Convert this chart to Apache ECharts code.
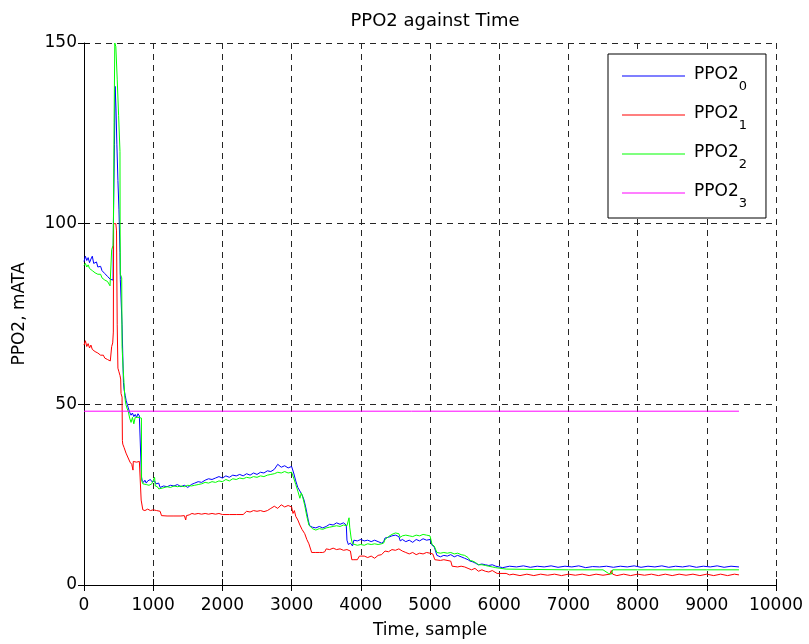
<!DOCTYPE html>
<html>
<head>
<meta charset="utf-8">
<script src="https://cdn.jsdelivr.net/npm/echarts@6/dist/echarts.min.js"></script>
<style>
html,body{margin:0;padding:0;background:#fff;}
#chart{width:809px;height:644px;}
</style>
</head>
<body>
<div id="chart"></div>
<script>
const xTicks = [0,1000,2000,3000,4000,5000,6000,7000,8000,9000,10000];
const yTicks = [0,50,100,150];
const seriesNames = ['PPO2_0','PPO2_1','PPO2_2','PPO2_3'];

const ppo2_0 = [[0,89.5],[20,91],[40,89.8],[60,90.6],[80,89.2],[100,90.2],[120,91],[140,89],[160,88.6],[180,89.4],[200,88],[220,87.6],[240,88.2],[260,87],[280,86.8],[300,86.2],[320,86.6],[340,85.4],[360,85.8],[380,84.6],[400,85],[420,84.4],
[425,100],[440,122],[450,138],[462,132],[475,122],[490,112],[505,104],[520,92],[525,84.5],[545,84],[550,72],[560,64],[570,56],[580,54],[595,52.5],[610,51],[625,50],[640,49],[660,47.8],[680,47],[700,47.6],[720,46.6],[740,47.2],[760,46.4],[780,47.4],[800,46.8],[820,47],
[830,30],[840,29],[860,28.4],[880,29],[900,28.2],[920,28.8],[940,28.4],[960,29.2],[980,28.6],[1000,28.4],[1020,28.8],[1040,28],[1060,27.6],[1080,28.2],[1100,27],[1120,26.8],[1150,27.4],[1200,27.2],[1250,27.6],[1300,27.4],[1350,27.8],[1400,27.2],[1450,27.6],[1500,27],[1550,27.8],[1600,28.2],[1650,28.6],[1700,28.4],[1750,29],[1800,29.4],[1850,29.2],[1900,29.6],[1950,30],[2000,29.6],[2050,30.2],[2100,29.8],[2150,30.4],[2200,30.2],[2250,30.6],[2300,30.2],[2350,30.8],[2400,30.4],[2450,31],[2500,30.6],[2550,31.2],[2600,31],[2650,31.6],[2700,31.4],[2750,32],[2800,33.4],[2850,32.6],[2900,33],[2950,32.4],[3000,32.8],
[3030,31],[3060,28.8],[3090,27],[3120,26],[3150,25],[3180,23.5],[3210,21],[3240,18],[3260,16.4],[3300,16],[3350,15.8],[3400,16.2],[3450,15.8],[3500,16.2],[3550,16.8],[3600,16.6],[3650,17.2],[3700,16.8],[3750,17.2],[3790,16.6],[3800,12.4],[3820,11.2],[3850,11.6],[3880,10.8],[3900,12.4],[3950,12.2],[4000,12.6],[4050,12.2],[4100,12.4],[4150,12],[4200,12.4],[4250,12],[4300,11.6],[4330,12],[4350,13],[4400,13.2],[4450,13.6],[4500,13.8],[4550,13.4],[4570,12.2],[4600,12.6],[4650,12],[4700,12.4],[4750,11.8],[4800,12.6],[4850,12.2],[4900,12.8],[4950,12.4],[5000,12.6],
[5030,11],[5060,10.6],[5100,8.2],[5150,7.8],[5200,8.2],[5250,8],[5300,8.4],[5350,7.8],[5400,8.2],[5450,7.8],[5500,7.4],[5550,7],[5580,6.6],[5620,6.4],[5660,6],[5700,5.6],[5750,5.8],[5800,5.6],[5850,5.4],[5900,5.6],[5950,5.2],[5970,5],[6050,4.8],[6150,5.2],[6250,5],[6350,5.3],[6450,4.9],[6550,5.2],[6650,5],[6750,5.3],[6850,4.9],[6950,5.2],[7050,5],[7150,5.3],[7250,4.8],[7350,5.1],[7450,5],[7550,5.2],[7650,4.9],[7750,5.2],[7850,5],[7950,5.3],[8050,4.9],[8150,5.2],[8250,5],[8350,5.3],[8450,4.9],[8550,5.2],[8650,5],[8750,5.3],[8850,4.9],[8950,5.2],[9050,5],[9150,5.3],[9250,4.9],[9350,5.2],[9465,5]];

const ppo2_1 = [[0,66.4],[20,67.6],[40,66],[60,66.8],[80,65.6],[100,66.4],[120,65.2],[140,65.6],[160,64.6],[180,64.8],[200,64.2],[220,64.4],[240,63.6],[260,63.2],[280,63.6],[300,62.8],[320,63.2],[340,62.4],[360,62.8],[380,62],[398,62.2],[400,66],[415,67],[424,70],[428,100],[460,100],[470,98],[480,72],[490,60],[505,59],[520,58],[530,57],[535,53],[550,52],[555,40],[560,39],[580,38],[607,36.5],[630,36],[665,34],[690,33.4],[708,31.8],[712,34.2],[760,34],[800,34.2],[824,34],
[826,23.5],[850,20.8],[880,20.6],[920,21],[960,20.6],[1000,20.8],[1050,20.6],[1100,20.4],[1120,19.2],[1200,19.1],[1300,19.1],[1400,19.1],[1450,19.2],[1470,18],[1480,19.2],[1520,19.4],[1560,19.8],[1600,19.6],[1650,19.8],[1700,19.6],[1750,19.8],[1800,19.6],[1850,19.8],[1900,19.6],[1950,19.8],[2000,19.5],[2100,19.5],[2200,19.5],[2300,19.5],[2350,20.4],[2400,20.2],[2450,20.6],[2500,20.4],[2550,20.6],[2600,20.3],[2650,20.6],[2700,21.2],[2750,21.8],[2800,21.2],[2850,22.2],[2900,21.6],[2950,22],[3000,21.6],
[3020,19.8],[3040,20.6],[3060,19],[3090,18],[3120,16.6],[3150,15.4],[3190,14.2],[3220,12.6],[3250,11.4],[3290,9],[3350,9],[3400,9],[3450,9],[3480,9.2],[3500,10],[3550,9.8],[3600,10.2],[3650,9.8],[3700,10],[3750,9.6],[3800,9.8],[3850,9.4],[3870,7],[3900,7],[3950,7],[3980,8],[4000,7.6],[4050,8],[4100,7.6],[4150,8],[4200,7.4],[4250,8.2],[4300,8.4],[4350,9.4],[4400,9.2],[4450,9.8],[4500,9.6],[4550,10],[4600,9.4],[4650,9],[4700,8.6],[4750,9],[4800,8.4],[4850,8.8],[4900,8.6],[4950,9],[5000,8.8],
[5040,8.6],[5070,7],[5150,6.8],[5200,7],[5300,6.6],[5320,5.2],[5400,5],[5450,5.2],[5500,5],[5550,4.6],[5600,4.2],[5650,4.6],[5700,3.8],[5750,4.2],[5800,3.8],[5850,3.6],[5900,4],[5970,3.2],[6100,3.2],[6150,2.8],[6200,3],[6300,2.6],[6400,3],[6500,2.6],[6600,3],[6700,2.7],[6800,3],[6900,2.6],[7000,3],[7100,2.7],[7200,3],[7300,2.6],[7400,3],[7500,2.7],[7600,3],[7620,4],[7640,3],[7700,2.6],[7800,3],[7900,2.6],[8000,3],[8100,2.7],[8200,3],[8300,2.6],[8400,3],[8500,2.6],[8600,3],[8700,2.7],[8800,3],[8900,2.6],[9000,3],[9100,2.6],[9200,3],[9300,2.6],[9400,3],[9465,2.8]];

const ppo2_2 = [[0,88.4],[20,89],[40,88],[60,88.6],[80,87.6],[100,88],[120,87],[140,87.4],[160,86.4],[180,86.8],[200,86],[220,85.6],[240,86],[260,85],[280,85.2],[300,84.4],[320,84.8],[340,84],[360,83.6],[376,82.8],[398,83],[400,92.8],[420,94],[425,100],[435,128],[445,150],[460,149],[480,140],[500,130],[520,120],[522,100],[525,86],[545,85],[550,66],[565,60],[578,56],[590,52],[605,50],[620,49],[640,48],[660,46.2],[680,45],[700,46.4],[720,44.6],[740,46.4],[760,46],[780,46.4],[800,46.2],[830,46.2],
[832,29],[850,28],[870,27.6],[900,27.8],[940,27.6],[980,28],[1000,27.8],[1020,29.8],[1030,27.4],[1060,27.2],[1080,26.6],[1100,26.4],[1130,26.8],[1150,26.6],[1200,27.2],[1250,27],[1300,27.4],[1350,27.2],[1400,27.4],[1450,27.2],[1500,27.6],[1550,27.4],[1600,27.6],[1650,27.8],[1700,28],[1750,28.4],[1800,28.2],[1850,28.6],[1900,28.4],[1950,28.8],[2000,28.6],[2050,29.2],[2100,28.8],[2150,29.4],[2200,29.2],[2250,29.6],[2300,29.4],[2350,29.8],[2400,29.6],[2450,30],[2500,29.8],[2550,30.2],[2600,30],[2650,30.4],[2700,30.6],[2750,30.8],[2800,31.2],[2850,31],[2900,31.4],[2950,31],[3000,31.2],
[3030,29.6],[3060,27.8],[3090,26],[3120,24],[3140,25.5],[3160,24.4],[3190,22],[3220,19],[3250,16.6],[3300,15.6],[3350,15.2],[3400,15.6],[3450,15.4],[3500,15.8],[3550,16],[3600,16.2],[3650,16.4],[3700,16.2],[3750,16.6],[3800,16.4],[3820,16.8],[3830,18.6],[3840,16],[3860,13],[3880,11.4],[3900,11],[3950,11],[4000,11.2],[4050,11],[4100,11.4],[4150,11.2],[4200,11.4],[4250,11.2],[4300,11.4],[4330,11.6],[4350,12.6],[4400,13.4],[4450,14],[4500,14.4],[4550,14.2],[4570,13.2],[4600,13.6],[4650,13.8],[4700,13.6],[4750,13.4],[4800,13.8],[4850,13.6],[4900,14],[4950,13.8],[5000,13.6],
[5030,11.2],[5060,10.8],[5100,9],[5150,8.8],[5200,9],[5250,8.8],[5300,9],[5350,8.6],[5400,8.8],[5450,8.4],[5500,8.2],[5550,7.6],[5580,6.8],[5620,6.6],[5660,6.2],[5700,5.6],[5750,5.6],[5800,5.4],[5850,5.2],[5900,5],[5950,4.8],[5970,4.4],[6100,4.4],[6500,4.3],[7000,4.2],[7500,4.2],[7580,3.2],[7620,3],[7640,4.2],[8000,4.2],[8500,4.2],[9000,4.2],[9465,4.2]];

const ppo2_3 = [[0,48.1],[9465,48.1]];

const colors = ['#0000ff','#ff0000','#00ff00','#ff00ff'];
const allData = [ppo2_0, ppo2_1, ppo2_2, ppo2_3];

const FONT = 'DejaVu Sans, Verdana, sans-serif';
const chart = echarts.init(document.getElementById('chart'), null, {renderer:'canvas'});

const gridLine = {show:true, lineStyle:{color:'#262626', type:[6,5], width:1}};

chart.setOption({
  animation:false,
  backgroundColor:'#fff',
  title:{
    text:'PPO2 against Time', left:430, top:7, textAlign:'center',
    textStyle:{fontFamily:FONT, fontSize:18, fontWeight:'normal', color:'#000'}
  },
  grid:{left:84, right:33, top:43, bottom:59, containLabel:false},
  legend:{
    left:608, top:54, orient:'vertical',
    padding:[12,19,0,14],
    borderColor:'#000', borderWidth:1, backgroundColor:'#fff',
    icon:'rect', itemWidth:63, itemHeight:1, itemGap:4,
    data:seriesNames,
    formatter:function(n){ return '{m|PPO2}{s|' + n.split('_')[1] + '}'; },
    textStyle:{
      fontFamily:FONT, color:'#000',
      rich:{
        m:{fontFamily:FONT, fontSize:17, lineHeight:20, verticalAlign:'top', padding:[0,0,0,4], color:'#000'},
        s:{fontFamily:FONT, fontSize:13, lineHeight:13, verticalAlign:'top', padding:[14,0,8,0], color:'#000'}
      }
    }
  },
  xAxis:[{
    type:'value', min:0, max:10000, interval:1000, position:'bottom',
    name:'Time, sample', nameLocation:'middle', nameGap:37,
    nameTextStyle:{fontFamily:FONT, fontSize:17, color:'#000'},
    axisLine:{show:true, onZero:false, lineStyle:{color:'#000', width:1}},
    axisTick:{show:true, inside:true, length:6, lineStyle:{color:'#000'}},
    axisLabel:{fontFamily:FONT, fontSize:17, color:'#000', margin:12,
      formatter:function(v){ return xTicks.indexOf(v) >= 0 ? String(v) : ''; }},
    splitLine:gridLine
  },{
    type:'value', min:0, max:10000, interval:1000, position:'top',
    axisLine:{show:false},
    axisTick:{show:true, inside:true, length:6, lineStyle:{color:'#000'}},
    axisLabel:{show:false}, splitLine:{show:false}
  }],
  yAxis:[{
    type:'value', min:0, max:150, interval:50, position:'left',
    name:'PPO2, mATA', nameLocation:'middle', nameGap:56, nameRotate:90,
    nameTextStyle:{fontFamily:FONT, fontSize:17, color:'#000'},
    axisLine:{show:true, onZero:false, lineStyle:{color:'#000', width:1}},
    axisTick:{show:true, inside:true, length:6, lineStyle:{color:'#000'}},
    axisLabel:{fontFamily:FONT, fontSize:17, color:'#000', margin:7,
      formatter:function(v){ return yTicks.indexOf(v) >= 0 ? String(v) : ''; }},
    splitLine:gridLine
  },{
    type:'value', min:0, max:150, interval:50, position:'right',
    axisLine:{show:false},
    axisTick:{show:true, inside:true, length:6, lineStyle:{color:'#000'}},
    axisLabel:{show:false}, splitLine:{show:false}
  }],
  series: seriesNames.map(function(n, i){
    return {
      name:n, type:'line', xAxisIndex:0, yAxisIndex:0,
      data:allData[i], showSymbol:false, symbol:'none',
      lineStyle:{color:colors[i], width:1}, itemStyle:{color:colors[i]},
      emphasis:{disabled:true}, z:2+i
    };
  })
});
</script>
</body>
</html>
